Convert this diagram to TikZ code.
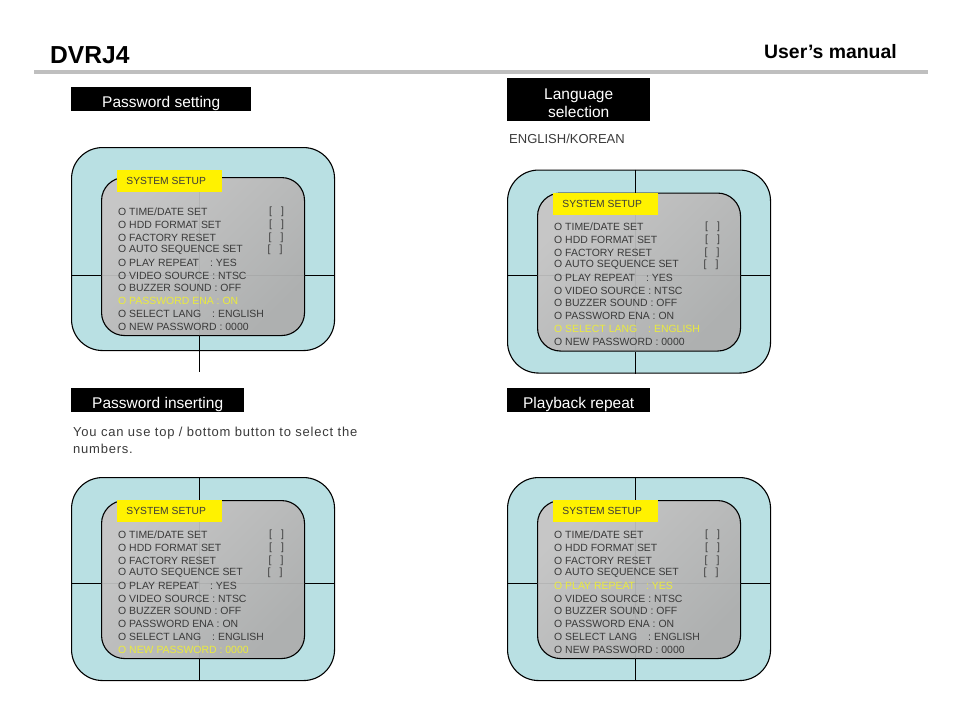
\documentclass[tikz,border=0pt]{standalone}
\usepackage{fontspec}
\setmainfont{Liberation Sans}
\newfontfamily\noticefont[LetterSpace=6]{Liberation Sans}
\definecolor{panelblue}{HTML}{B9E0E3}
\definecolor{menutext}{HTML}{3A3A3A}
\definecolor{menuhigh}{HTML}{EBEB3C}
\definecolor{menulight}{HTML}{C6C6C6}
\definecolor{menudark}{HTML}{AEB0B0}
\tikzset{
  outerbox/.style={draw=black,line width=1.1pt,fill=panelblue,rounded corners=31pt,minimum width=263pt,minimum height=203pt,inner sep=0pt},
  innerbox/.style={draw=black,line width=1.1pt,rounded corners=23pt,minimum width=203pt,minimum height=158pt,inner sep=0pt,top color=menulight,bottom color=menudark,shading angle=45},
  crossline/.style={black,line width=1pt},
  faintline/.style={gray,opacity=0.2,line width=0.8pt},
  setupbox/.style={fill=yellow,text=menutext,font=\fontsize{10.3}{12}\selectfont,minimum width=105pt,minimum height=22pt,inner sep=0pt},
  blackbox/.style={fill=black,text=white,font=\fontsize{15.5}{18.5}\selectfont,inner sep=0pt,align=center,text height=16.6pt,text depth=0pt},
  menuitem/.style={anchor=west,inner sep=0pt,font=\fontsize{10.45}{12}\selectfont},
  notice/.style={anchor=west,inner sep=0pt,text=menutext,font=\fontsize{13}{15}\noticefont}
}

\newcommand{\menuentry}[4]{% line, highlighted line, y, text
  \ifnum#1=#2\relax
    \node[menuitem,text=menuhigh] (item#1) at (47,#3) {#4};
  \else
    \node[menuitem,text=menutext] (item#1) at (47,#3) {#4};
  \fi
}
\newcommand{\menupanel}[3]{% highlighted line, offset of the inner box, height of the cross
  \node[outerbox,anchor=north west] (outer) at (0,0) {};
  \node[innerbox,anchor=north west] (inner) at (30,23+#2) {};
  \coordinate (cross) at (128,#3);
  \draw[faintline] (inner.west |- cross) -- (inner.east |- cross);
  \draw[faintline] (inner.north -| cross) -- (inner.south -| cross);
  \draw[crossline] (outer.west |- cross) -- (inner.west |- cross);
  \draw[crossline] (inner.east |- cross) -- (outer.east |- cross);
  \node[setupbox,anchor=north west] (setup) at (46,23) {\hspace*{-7pt}SYSTEM SETUP};
  \menuentry{1}{#1}{57.5+#2}{O TIME/DATE SET}
  \menuentry{2}{#1}{70.5+#2}{O HDD FORMAT SET}
  \menuentry{3}{#1}{83.5+#2}{O FACTORY RESET}
  \menuentry{4}{#1}{95.5+#2}{O AUTO SEQUENCE SET}
  \menuentry{5}{#1}{108.5+#2}{O PLAY REPEAT\hspace{11pt}: YES}
  \menuentry{6}{#1}{121.5+#2}{O VIDEO SOURCE : NTSC}
  \menuentry{7}{#1}{133.5+#2}{O BUZZER SOUND : OFF}
  \menuentry{8}{#1}{146.5+#2}{O PASSWORD ENA : ON}
  \menuentry{9}{#1}{159.5+#2}{O SELECT LANG\hspace{11pt}: ENGLISH}
  \menuentry{10}{#1}{172.5+#2}{O NEW PASSWORD : 0000}
  \node[menuitem,text=menutext] (mark1) at (198,57.5+#2) {[\hspace{9pt}]};
  \node[menuitem,text=menutext] (mark2) at (198,70.5+#2) {[\hspace{9pt}]};
  \node[menuitem,text=menutext] (mark3) at (197.5,83.5+#2) {[\hspace{9pt}]};
  \node[menuitem,text=menutext] (mark4) at (196.5,95.5+#2) {[\hspace{9pt}]};
}

\begin{document}
\begin{tikzpicture}[x=1pt,y=-1pt]
    \useasboundingbox (0,0) rectangle (954,716);

    % header
    \node[anchor=west,inner sep=0pt,font=\fontsize{24.6}{28}\selectfont\bfseries] (title) at (50,55) {DVRJ4};
    \node[anchor=east,inner sep=0pt,font=\fontsize{19.4}{22}\selectfont\bfseries] (manual) at (897,52) {User's manual};
    \fill[gray!50] (34,70) rectangle (928,74);

    % left column
    \node[blackbox,minimum width=180pt,minimum height=24pt,anchor=north west] (pwset) at (71,87) {Password setting};
    \begin{scope}[shift={(71,147)}]
        \menupanel{8}{7}{128}
        \coordinate (tail) at (128,225);
        \draw[crossline] (inner.south -| cross) -- (tail);
    \end{scope}

    \node[blackbox,minimum width=173pt,minimum height=24pt,anchor=north west] (pwins) at (71,388) {Password inserting};
    \node[notice] (usetext) at (73,433) {You can use top / bottom button to select the};
    \node[notice] (usetextb) at (73,449) {numbers.};
    \begin{scope}[shift={(71,477)}]
        \menupanel{10}{0}{106}
        \draw[crossline] (outer.north -| cross) -- (inner.north -| cross);
        \draw[crossline] (inner.south -| cross) -- (outer.south -| cross);
    \end{scope}

    % right column
    \node[blackbox,text height=36pt,minimum width=143pt,minimum height=43pt,anchor=north west] (lang) at (507,78) {Language\\selection};
    \node[anchor=west,inner sep=0pt,text=menutext,font=\fontsize{13}{15}\selectfont] (engkor) at (509,139) {ENGLISH/KOREAN};
    \begin{scope}[shift={(507,169.5)}]
        \menupanel{9}{0}{106}
        \draw[crossline] (outer.north -| cross) -- (inner.north -| cross);
        \draw[crossline] (inner.south -| cross) -- (outer.south -| cross);
    \end{scope}

    \node[blackbox,minimum width=143pt,minimum height=24pt,anchor=north west] (repeat) at (507,388) {Playback repeat};
    \begin{scope}[shift={(507,477)}]
        \menupanel{5}{0}{106}
        \draw[crossline] (outer.north -| cross) -- (inner.north -| cross);
        \draw[crossline] (inner.south -| cross) -- (outer.south -| cross);
    \end{scope}

\end{tikzpicture}
\end{document}
